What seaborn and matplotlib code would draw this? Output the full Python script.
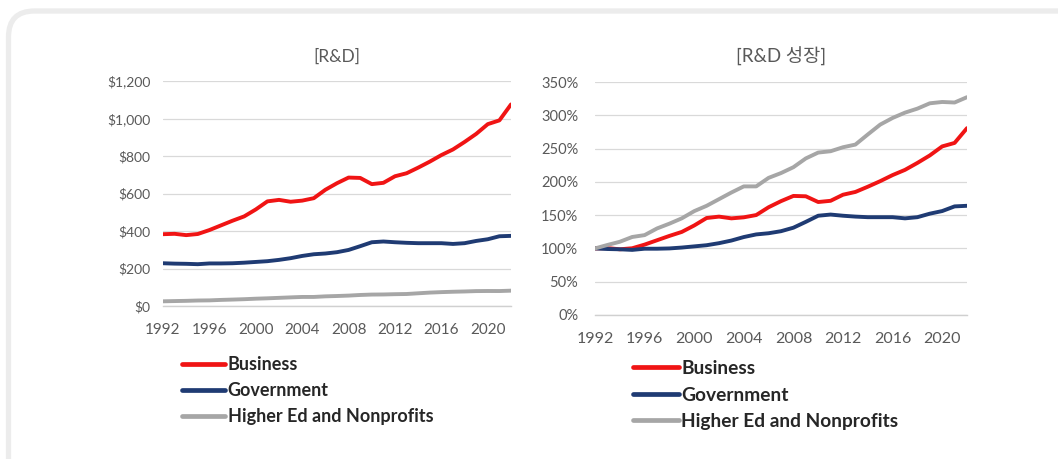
import matplotlib
matplotlib.use("Agg")
import matplotlib.pyplot as plt
from matplotlib.patches import FancyBboxPatch
from matplotlib.transforms import IdentityTransform
from matplotlib.ticker import FuncFormatter, PercentFormatter
import numpy as np
import pandas as pd
import seaborn as sns

# U.S. R&D spending by performing sector, $ billions
years = list(range(1992, 2023))
business = [383, 385, 378, 384, 405, 430, 455, 478, 515, 558, 566, 556, 562, 575,
            620, 655, 685, 683, 650, 657, 692, 708, 738, 770, 805, 835, 875, 918,
            970, 990, 1075]
government = [228, 226, 225, 223, 227, 227, 228, 231, 235, 239, 246, 255, 267, 276,
              280, 287, 299, 319, 340, 344, 340, 337, 335, 335, 335, 331, 335, 347,
              356, 372, 374]
higher_ed = [25.0, 26.3, 27.5, 29.3, 30.0, 32.5, 34.3, 36.3, 39.0, 41.0, 43.5, 46.0,
             48.3, 48.3, 51.5, 53.3, 55.5, 58.8, 61.0, 61.5, 63.0, 64.0, 67.8, 71.5,
             74.0, 76.0, 77.5, 79.5, 80.0, 79.8, 81.8]

sectors = ["Business", "Government", "Higher Ed and Nonprofits"]
colors = ["#f01414", "#1f3b73", "#a6a6a6"]
titles = ["[R&D]", "[R&D 성장]"]
year_ticks = list(range(1992, 2021, 4))

levels = pd.DataFrame({"year": years, sectors[0]: business,
                       sectors[1]: government, sectors[2]: higher_ed})
long_levels = levels.melt(id_vars="year", var_name="sector", value_name="value")
growth = levels.copy()
for s in sectors:
    growth[s] = levels[s] / levels[s].iloc[0]
long_growth = growth.melt(id_vars="year", var_name="sector", value_name="value")

sns.set_style("white")
plt.rcParams["font.family"] = ["Lato", "Noto Sans CJK KR", "DejaVu Sans"]

W, H = 1058, 459
fig = plt.figure(figsize=(W / 100, H / 100), dpi=100)
fig.patch.set_facecolor("white")

# rounded card outline
card = FancyBboxPatch((8.5, -30), 1080, H - 11 + 30,
                      boxstyle="round,pad=0,rounding_size=26",
                      transform=IdentityTransform(), facecolor="none",
                      edgecolor="#ececec", linewidth=3.8, zorder=-1)
fig.patches.append(card)


def px_axes(x0, x1, ytop, ybot):
    return fig.add_axes([x0 / W, 1 - ybot / H, (x1 - x0) / W, (ybot - ytop) / H])


ax1 = px_axes(163, 511, 81, 306)
ax2 = px_axes(595, 967, 82, 315)

palette = dict(zip(sectors, colors))
sns.lineplot(data=long_levels, x="year", y="value", hue="sector", hue_order=sectors,
             palette=palette, linewidth=2.8, ax=ax1, legend=False)
sns.lineplot(data=long_growth, x="year", y="value", hue="sector", hue_order=sectors,
             palette=palette, linewidth=2.8, ax=ax2, legend=False)

ax1.set_ylim(0, 1200)
ax1.set_yticks(range(0, 1201, 200))
ax1.yaxis.set_major_formatter(FuncFormatter(lambda v, p: f"${v:,.0f}"))
ax2.set_ylim(0, 3.5)
ax2.set_yticks(np.arange(0, 3.51, 0.5))
ax2.yaxis.set_major_formatter(PercentFormatter(1.0, decimals=0))

# per-panel: legend anchor (px), y tick size, x tick size, y pad, title size, legend size
panel_opts = [
    ((182, 356), 10, 11, 9, 12.5, 13.0),
    ((633, 360), 10.5, 11.5, 12, 13.5, 13.8),
]
for ax, title, ((lx, ly), yfs, xfs, ypad, tfs, lfs) in zip([ax1, ax2], titles, panel_opts):
    ax.set_facecolor("none")
    ax.set_xlim(1992, 2022)
    ax.set_xticks(year_ticks)
    ax.set_xlabel("")
    ax.set_ylabel("")
    ax.grid(axis="y", color="#d9d9d9", linewidth=0.9)
    ax.grid(axis="x", visible=False)
    for side in ["left", "right", "top"]:
        ax.spines[side].set_visible(False)
    ax.spines["bottom"].set_color("#d0d0d0")
    ax.spines["bottom"].set_linewidth(1.0)
    ax.tick_params(axis="x", direction="inout", length=7, width=0.9,
                   color="#d0d0d0", labelsize=xfs, labelcolor="#595959", pad=9)
    ax.tick_params(axis="y", length=0, labelsize=yfs, labelcolor="#595959", pad=ypad)
    ax.set_title(title, fontsize=tfs, color="#595959", pad=14)
    ax.legend(handles=ax.lines[:3], labels=sectors, loc="upper left",
              bbox_to_anchor=(lx / W, 1 - ly / H), bbox_transform=fig.transFigure,
              frameon=False, borderpad=0, borderaxespad=0, handlelength=2.4,
              handletextpad=0.12, labelspacing=0.5,
              prop={"family": "Lato", "weight": "bold", "size": lfs})
    for t in ax.get_legend().get_texts():
        t.set_color("#262626")
    for ln in ax.get_legend().get_lines():
        ln.set_linewidth(3.4)

fig.savefig("out.png", dpi=100, facecolor="white")
